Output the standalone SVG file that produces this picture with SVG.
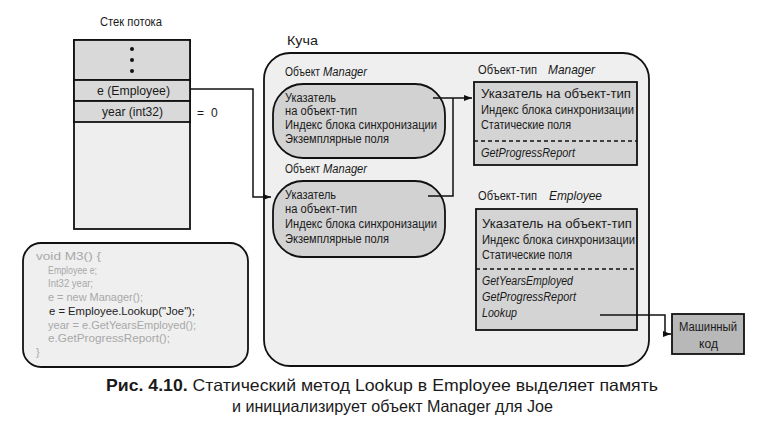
<svg xmlns="http://www.w3.org/2000/svg" width="774" height="423" viewBox="0 0 774 423">
<style>
text{font-family:"Liberation Sans",Arial,sans-serif;fill:#1a1a1a}
.t{font-size:12px}
.lbl{font-size:13.5px}
.it{font-style:italic}
.code{font-size:11px;fill:#a8a8a8}
.codeb{font-size:11px;fill:#222}
.ln{fill:none;stroke:#111;stroke-width:1.5}
.box{stroke:#111;stroke-width:1.8}
.cap{font-size:16.5px}
</style>
<defs>
<marker id="ah" viewBox="0 0 8 8" refX="8" refY="4" markerWidth="8" markerHeight="8" markerUnits="userSpaceOnUse" orient="auto">
<path d="M0,1 L8,4 L0,7 Z" fill="#111"/>
</marker>
</defs>
<rect width="774" height="423" fill="#fff"/>

<g id="stack">
<text class="t" x="100" y="26" textLength="62" lengthAdjust="spacingAndGlyphs">Стек потока</text>
<rect class="box" x="74" y="40" width="116" height="189" fill="#eeeeee"/>
<rect class="box" x="74" y="40" width="116" height="40" fill="#d9d9d9"/>
<rect class="box" x="74" y="80" width="116" height="21" fill="#d9d9d9"/>
<rect class="box" x="74" y="101" width="116" height="21" fill="#d9d9d9"/>
<circle cx="132" cy="49" r="2" fill="#111"/>
<circle cx="132" cy="60" r="2" fill="#111"/>
<circle cx="132" cy="71" r="2" fill="#111"/>
<text class="t" x="97" y="95" textLength="73" lengthAdjust="spacingAndGlyphs">e (Employee)</text>
<text class="t" x="102" y="116" textLength="61" lengthAdjust="spacingAndGlyphs">year (int32)</text>
<text class="t" x="197" y="117">=</text>
<text class="t" x="211" y="117">0</text>
</g>

<g id="code">
<rect x="23" y="243" width="225" height="124" rx="18" fill="#efefef" stroke="#111" stroke-width="1.8"/>
<text class="code" x="36" y="260" textLength="65" lengthAdjust="spacingAndGlyphs">void M3()  {</text>
<text class="code" x="48" y="274" textLength="49" lengthAdjust="spacingAndGlyphs">Employee e;</text>
<text class="code" x="48" y="287" textLength="45" lengthAdjust="spacingAndGlyphs">Int32 year;</text>
<text class="code" x="48" y="301" textLength="95" lengthAdjust="spacingAndGlyphs">e = new Manager();</text>
<text class="codeb" x="49" y="315" textLength="146" lengthAdjust="spacingAndGlyphs">e = Employee.Lookup("Joe");</text>
<text class="code" x="48" y="329" textLength="148" lengthAdjust="spacingAndGlyphs">year = e.GetYearsEmployed();</text>
<text class="code" x="48" y="342" textLength="122" lengthAdjust="spacingAndGlyphs">e.GetProgressReport();</text>
<text class="code" x="36" y="356">}</text>
</g>

<g id="heap">
<rect x="264" y="53" width="385" height="313" rx="26" fill="#efefef" stroke="#111" stroke-width="1.8"/>
<text class="lbl" x="287" y="45" textLength="31" lengthAdjust="spacingAndGlyphs">Куча</text>
</g>

<g id="manager1">
<text class="t" x="285" y="76" textLength="35" lengthAdjust="spacingAndGlyphs">Объект</text>
<text class="t it" x="323" y="76" textLength="44" lengthAdjust="spacingAndGlyphs">Manager</text>
<rect class="box" x="273" y="84" width="172" height="74" rx="30" fill="#d2d2d2"/>
<text class="t" x="285" y="102" textLength="51" lengthAdjust="spacingAndGlyphs">Указатель</text>
<text class="t" x="285" y="115" textLength="72" lengthAdjust="spacingAndGlyphs">на объект-тип</text>
<text class="t" x="285" y="129" textLength="152" lengthAdjust="spacingAndGlyphs">Индекс блока синхронизации</text>
<text class="t" x="285" y="143" textLength="104" lengthAdjust="spacingAndGlyphs">Экземплярные поля</text>
</g>

<g id="manager2">
<text class="t" x="285" y="173" textLength="35" lengthAdjust="spacingAndGlyphs">Объект</text>
<text class="t it" x="323" y="173" textLength="44" lengthAdjust="spacingAndGlyphs">Manager</text>
<rect class="box" x="273" y="181" width="172" height="76" rx="30" fill="#d2d2d2"/>
<text class="t" x="285" y="199" textLength="51" lengthAdjust="spacingAndGlyphs">Указатель</text>
<text class="t" x="285" y="213" textLength="72" lengthAdjust="spacingAndGlyphs">на объект-тип</text>
<text class="t" x="285" y="228" textLength="152" lengthAdjust="spacingAndGlyphs">Индекс блока синхронизации</text>
<text class="t" x="285" y="243" textLength="104" lengthAdjust="spacingAndGlyphs">Экземплярные поля</text>
</g>

<g id="typeManager">
<text class="lbl" x="478" y="74" textLength="59" lengthAdjust="spacingAndGlyphs">Объект-тип</text>
<text class="lbl it" x="548" y="74" textLength="47" lengthAdjust="spacingAndGlyphs">Manager</text>
<rect class="box" x="474" y="82" width="163" height="83" fill="#d4d4d4"/>
<text class="t" x="481" y="98" textLength="150" lengthAdjust="spacingAndGlyphs">Указатель на объект-тип</text>
<text class="t" x="481" y="114" textLength="153" lengthAdjust="spacingAndGlyphs">Индекс блока синхронизации</text>
<text class="t" x="481" y="129" textLength="90" lengthAdjust="spacingAndGlyphs">Статические поля</text>
<line x1="474" y1="141" x2="637" y2="141" stroke="#111" stroke-width="1.3" stroke-dasharray="4,3"/>
<text class="t it" x="481" y="157" textLength="94" lengthAdjust="spacingAndGlyphs">GetProgressReport</text>
</g>

<g id="typeEmployee">
<text class="lbl" x="478" y="200" textLength="59" lengthAdjust="spacingAndGlyphs">Объект-тип</text>
<text class="lbl it" x="549" y="200" textLength="53" lengthAdjust="spacingAndGlyphs">Employee</text>
<rect class="box" x="476" y="209" width="161" height="121" fill="#d4d4d4"/>
<text class="t" x="482" y="228" textLength="150" lengthAdjust="spacingAndGlyphs">Указатель на объект-тип</text>
<text class="t" x="482" y="244" textLength="153" lengthAdjust="spacingAndGlyphs">Индекс блока синхронизации</text>
<text class="t" x="482" y="259" textLength="90" lengthAdjust="spacingAndGlyphs">Статические поля</text>
<line x1="476" y1="269" x2="637" y2="269" stroke="#111" stroke-width="1.3" stroke-dasharray="4,3"/>
<text class="t it" x="482" y="285" textLength="91" lengthAdjust="spacingAndGlyphs">GetYearsEmployed</text>
<text class="t it" x="482" y="301" textLength="94" lengthAdjust="spacingAndGlyphs">GetProgressReport</text>
<text class="t it" x="482" y="317" textLength="35" lengthAdjust="spacingAndGlyphs">Lookup</text>
</g>

<g id="machineCode">
<rect class="box" x="672" y="314" width="72" height="40" fill="#b8b8b8"/>
<text class="t" x="679" y="331" textLength="58" lengthAdjust="spacingAndGlyphs">Машинный</text>
<text class="t" x="699" y="348" textLength="19" lengthAdjust="spacingAndGlyphs">код</text>
</g>

<g id="connectors">
<polyline class="ln" points="190,89 253,89 253,197 271,197" marker-end="url(#ah)"/>
<polyline class="ln" points="433,98 472,98" marker-end="url(#ah)"/>
<polyline class="ln" points="428,196 453,196 453,98"/>
<polyline class="ln" points="600,315 665,315 665,334 671,334" marker-end="url(#ah)"/>
</g>

<g id="caption">
<text class="cap" x="106" y="391" textLength="552" lengthAdjust="spacingAndGlyphs"><tspan font-weight="bold">Рис. 4.10.</tspan> Статический метод Lookup в Employee выделяет память</text>
<text class="cap" x="232" y="412" textLength="321" lengthAdjust="spacingAndGlyphs">и инициализирует объект Manager для Joe</text>
</g>
</svg>
